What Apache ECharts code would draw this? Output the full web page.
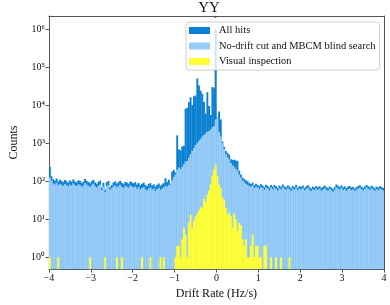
<!DOCTYPE html>
<html><head><meta charset="utf-8">
<script src="https://cdn.jsdelivr.net/npm/echarts@6/dist/echarts.min.js"></script>
<style>html,body{margin:0;padding:0;background:#fff}#c{width:390px;height:305px}</style>
</head><body><div id="c"></div>
<script>
const BIN_START = -4, BIN_WIDTH = 0.04;

const allHits = [
 240,135,112,104,118,98,110,102,95,108, 100,92,104,97,112,99,94,106,101,90,
 98,115,103,96,88,100,109,93,86,97, 104,68,91,60,95,102,70,80,93,99,
 87,95,103,90,84,96,92,86,99,93, 88,95,82,90,78,86,92,80,74,85,
 89,77,83,72,80,87,76,82,90,120, 95,110,82,180,200,170,1600,680,650,820,
 850,8000,8500,12000,16000,10000,17000,18000,50000,33000, 24000,20000,12000,6000,22000,9500,5500,30000,28000,1000000,
 4700,6800,4200,1100,800,620,560,500,380,360, 370,350,340,190,150,125,115,105,100,90,
 84,92,78,86,80,74,83,77,70,81, 75,68,79,72,80,74,66,77,71,82,
 73,69,78,72,65,75,70,80,68,74, 71,77,66,73,79,70,64,72,68,75,
 69,74,67,71,77,70,65,73,68,62, 70,82,76,71,78,69,73,66,72,75,
 68,71,64,70,74,79,72,67,73,80, 74,69,76,71,65,72,68,74,70,66
];
const noDrift = [
 125,105,88,82,92,78,86,80,76,84, 79,73,82,77,88,78,75,83,80,71,
 77,90,81,76,70,79,85,74,68,76, 82,58,72,52,75,80,60,66,73,78,
 69,75,81,71,66,76,72,68,78,73, 68,73,63,70,60,66,71,62,57,65,
 69,60,64,56,62,67,59,64,70,75, 72,80,78,105,130,150,200,230,210,240,
 280,330,340,420,520,630,750,900,1000,1150, 1300,1500,1650,1800,2000,2100,2300,2600,2800,4200,
 4500,2000,1500,1000,700,520,430,380,300,260, 240,210,190,150,125,105,95,85,80,75,
 72,78,66,73,68,63,71,66,60,69, 64,58,68,62,69,63,57,66,61,70,
 63,59,67,62,56,64,60,69,58,64, 61,66,57,63,68,60,55,62,58,65,
 59,64,57,61,66,60,56,63,58,53, 60,70,65,61,67,59,63,56,62,64,
 58,61,55,60,64,68,62,57,63,69, 64,59,65,61,56,62,58,64,60,57
];
const visual = [
 1,0,0,0,0,1,0,0,0,0, 0,0,0,0,0,0,0,0,0,0,
 0,0,0,0,1,0,0,0,0,0, 0,0,0,1,0,0,0,0,0,0,
 1,0,0,1,0,0,0,0,0,0, 0,0,0,0,0,1,0,0,0,0,
 1,0,0,0,0,0,1,0,1,0, 0,0,0,0,0,1,2,2,1,3,
 6,4,1,8,13,6,9,12,14,17, 21,20,34,28,45,57,84,140,200,275,
 140,80,65,38,32,20,13,15,12,6, 14,10,5,8,7,3,2,3,1,1,
 2,4,1,2,2,1,1,0,2,2, 0,0,1,0,0,1,0,0,1,0,
 0,0,0,1,0,0,0,0,0,0, 0,0,0,0,0,0,0,0,0,0,
 0,0,0,0,0,0,0,0,0,0, 0,0,0,0,0,0,0,0,0,0,
 0,0,0,0,0,0,0,0,0,0, 0,0,0,0,0,0,0,0,0,0
];

const seriesNames = ['All hits', 'No-drift cut and MBCM blind search', 'Visual inspection'];
const seriesColors = ['#0a80d2', '#99cdf8', '#ffff33'];
const xTicks = [-4, -3, -2, -1, 0, 1, 2, 3, 4];
const yTicks = [1, 10, 100, 1000, 10000, 100000, 1000000];
const minorMultipliers = [2, 3, 4, 5, 6, 7, 8, 9];
const Y_MIN = 0.49, Y_MAX = 2.2e6;

const minorTicks = [];
[0.1].concat(yTicks).forEach(d => minorMultipliers.forEach(m => {
  const v = d * m; if (v > Y_MIN && v < Y_MAX) minorTicks.push(v);
}));

function toData(vals) {
  const out = [];
  vals.forEach((v, i) => { if (v > 0) out.push([BIN_START + i * BIN_WIDTH, v]); });
  return out;
}
function renderBar(color) {
  return function (params, api) {
    const x0 = api.value(0), v = api.value(1);
    const p0 = api.coord([x0, v]);
    const p1 = api.coord([x0 + BIN_WIDTH, v]);
    const cs = params.coordSys;
    const rect = echarts.graphic.clipRectByRect(
      { x: p0[0], y: p0[1], width: p1[0] - p0[0] + 0.25, height: cs.y + cs.height - p0[1] },
      { x: cs.x, y: cs.y, width: cs.width, height: cs.height });
    return rect && { type: 'rect', shape: rect, style: { fill: color } };
  };
}

const FONT = 'Liberation Serif';
const chart = echarts.init(document.getElementById('c'), null, { renderer: 'canvas' });
const sup = { '0': '⁰', '1': '¹', '2': '²', '3': '³', '4': '⁴', '5': '⁵', '6': '⁶' };
chart.setOption({
  animation: false,
  title: { text: 'YY', left: 209, textAlign: 'center', top: 0, padding: [1, 0, 0, 0],
    textStyle: { fontFamily: FONT, fontSize: 15, fontWeight: 'normal', color: '#111' } },
  grid: { left: 34.5, right: 6, top: 16, bottom: 32 },
  legend: {
    orient: 'vertical', left: 186, top: 22,
    data: seriesNames.map(n => ({ name: n, icon: 'rect' })),
    itemWidth: 21, itemHeight: 7, itemGap: 4.5,
    padding: [3, 4, 3, 3],
    backgroundColor: 'rgba(255,255,255,0.8)', borderColor: '#d0d0d0', borderWidth: 1, borderRadius: 3,
    textStyle: { fontFamily: FONT, fontSize: 10.5, color: '#111', padding: [0, 0, 0, 4], lineHeight: 11 }
  },
  xAxis: [{
    type: 'value', min: -4, max: 4, interval: 1,
    name: 'Drift Rate (Hz/s)', nameLocation: 'middle', nameGap: 17,
    nameTextStyle: { fontFamily: FONT, fontSize: 12, color: '#111' },
    axisLine: { show: true, onZero: false, lineStyle: { color: '#555', width: 1 } },
    axisTick: { show: true, length: 3.5, lineStyle: { color: '#555' } },
    axisLabel: { fontFamily: FONT, fontSize: 10, color: '#111', margin: 4,
      formatter: v => v < 0 ? '\u2212' + Math.abs(v) : String(v) },
    splitLine: { show: false }
  }, {
    type: 'value', min: -4, max: 4, position: 'top',
    axisLine: { show: true, onZero: false, lineStyle: { color: '#555', width: 1 } },
    axisTick: { show: false }, axisLabel: { show: false }, splitLine: { show: false }
  }],
  yAxis: [{
    type: 'log', logBase: 10, min: Y_MIN, max: Y_MAX,
    name: 'Counts', nameLocation: 'middle', nameGap: 26,
    nameTextStyle: { fontFamily: FONT, fontSize: 12, color: '#111' },
    axisLine: { show: true, onZero: false, lineStyle: { color: '#555', width: 1 } },
    axisTick: { show: true, length: 3.5, customValues: yTicks, lineStyle: { color: '#555' } },
    axisLabel: { fontFamily: FONT, fontSize: 10, color: '#111', margin: 4, customValues: yTicks,
      formatter: v => '10' + sup[String(Math.round(Math.log10(v)))] },
    splitLine: { show: false }
  }, {
    type: 'log', logBase: 10, min: Y_MIN, max: Y_MAX, position: 'left',
    axisLine: { show: false },
    axisTick: { show: true, length: 2, customValues: minorTicks, lineStyle: { color: '#555', width: 0.8 } },
    axisLabel: { show: false }, splitLine: { show: false }
  }, {
    type: 'log', logBase: 10, min: Y_MIN, max: Y_MAX, position: 'right',
    axisLine: { show: true, onZero: false, lineStyle: { color: '#555', width: 1 } },
    axisTick: { show: false }, axisLabel: { show: false }, splitLine: { show: false }
  }],
  series: [allHits, noDrift, visual].map((vals, k) => ({
    type: 'custom', name: seriesNames[k],
    xAxisIndex: 0, yAxisIndex: 0,
    itemStyle: { color: seriesColors[k] },
    renderItem: renderBar(seriesColors[k]),
    encode: { x: 0, y: 1 },
    data: toData(vals), z: 2 + k
  }))
});
</script></body></html>
